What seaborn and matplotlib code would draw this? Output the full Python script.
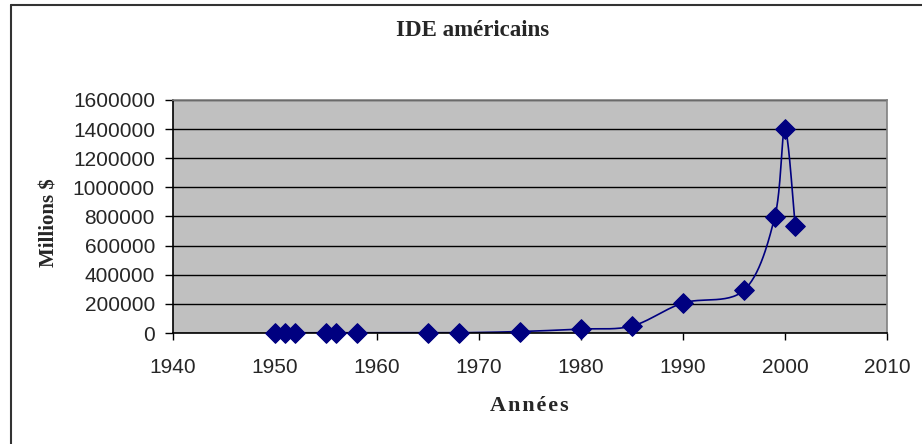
import numpy as np
import pandas as pd
import matplotlib
matplotlib.use("Agg")
import matplotlib.pyplot as plt
import seaborn as sns
from matplotlib.lines import Line2D

# Data (millions of dollars)
years = [1950, 1951, 1952, 1955, 1956, 1958, 1965, 1968, 1974, 1980,
         1985, 1990, 1996, 1999, 2000, 2001]
values = [1500, 1500, 1500, 1500, 1500, 1500, 1500, 1500, 10000, 27000,
          48000, 206000, 295000, 797000, 1400000, 735000]
x_ticks = [1940, 1950, 1960, 1970, 1980, 1990, 2000, 2010]
y_ticks = [0, 200000, 400000, 600000, 800000, 1000000, 1200000, 1400000, 1600000]

navy = "#000080"

df = pd.DataFrame({"Année": years, "IDE": values})

sns.set_style("white")
plt.rcParams["font.family"] = ["Liberation Sans", "DejaVu Sans"]

fig = plt.figure(figsize=(9.22, 4.44), dpi=100)
ax = fig.add_axes([173 / 922, 1 - 333 / 444, (887 - 173) / 922, (333 - 100) / 444])
ax.set_facecolor("#C0C0C0")
ax.set_xlim(1940, 2010)
ax.set_ylim(0, 1600000)
ax.set_xticks(x_ticks)
ax.set_yticks(y_ticks)
ax.set_yticklabels([str(v) for v in y_ticks])
ax.tick_params(axis="both", labelsize=15, width=1, color="black",
               direction="out", bottom=True, left=True)
ax.tick_params(axis="x", length=5, pad=13)
ax.tick_params(axis="y", length=6, pad=7)
ax.grid(axis="y", color="black", linewidth=1)
ax.set_axisbelow(True)
for side in ["top", "right", "bottom", "left"]:
    ax.spines[side].set_color("#808080")
    ax.spines[side].set_linewidth(1.2)
ax.spines["bottom"].set_color("black")
ax.spines["left"].set_color("black")

# Smoothed line (Catmull-Rom style Bezier in display space, like Excel)
fig.canvas.draw()
pts = ax.transData.transform(np.column_stack([years, values]))
curve = []
n = len(pts)
for i in range(n - 1):
    p0 = pts[max(i - 1, 0)]
    p1 = pts[i]
    p2 = pts[i + 1]
    p3 = pts[min(i + 2, n - 1)]
    c1 = p1 + (p2 - p0) / 6
    c2 = p2 - (p3 - p1) / 6
    t = np.linspace(0, 1, 30)[:, None]
    seg = ((1 - t) ** 3) * p1 + 3 * ((1 - t) ** 2) * t * c1 + 3 * (1 - t) * t ** 2 * c2 + t ** 3 * p2
    curve.append(seg)
curve = ax.transData.inverted().transform(np.vstack(curve))
smooth = pd.DataFrame({"x": curve[:, 0], "y": curve[:, 1]})
sns.lineplot(data=smooth, x="x", y="y", ax=ax, color=navy, linewidth=1.2,
             sort=False, estimator=None)
sns.scatterplot(data=df, x="Année", y="IDE", ax=ax, marker="D", s=100,
                color=navy, edgecolor=navy, zorder=5, clip_on=False)

ax.set_xlim(1940, 2010)
ax.set_ylim(0, 1600000)
ax.set_xlabel("")
ax.set_ylabel("")

serif = ["Liberation Serif", "DejaVu Serif"]
fig.text(473 / 922, 1 - 30 / 444, "IDE américains", ha="center", va="center",
         fontsize=16.5, fontweight="bold", family=serif)
fig.text(50 / 922, 1 - 223 / 444, "Millions $", ha="center", va="center",
         rotation=90, fontsize=15, fontweight="bold", family=serif)
fig.text(529 / 922, 1 - 406 / 444, "\u200a".join("Années"), ha="center", va="center",
         fontsize=16, fontweight="bold", family=serif)

# outer chart frame (only left and top edges visible)
fig.add_artist(Line2D([11 / 922, 11 / 922], [0, 1 - 5 / 444], color="#333333",
                      linewidth=1.5, transform=fig.transFigure))
fig.add_artist(Line2D([11 / 922, 1], [1 - 5 / 444, 1 - 5 / 444], color="#333333",
                      linewidth=1.5, transform=fig.transFigure))

fig.savefig("out.png", dpi=100, facecolor="white")
